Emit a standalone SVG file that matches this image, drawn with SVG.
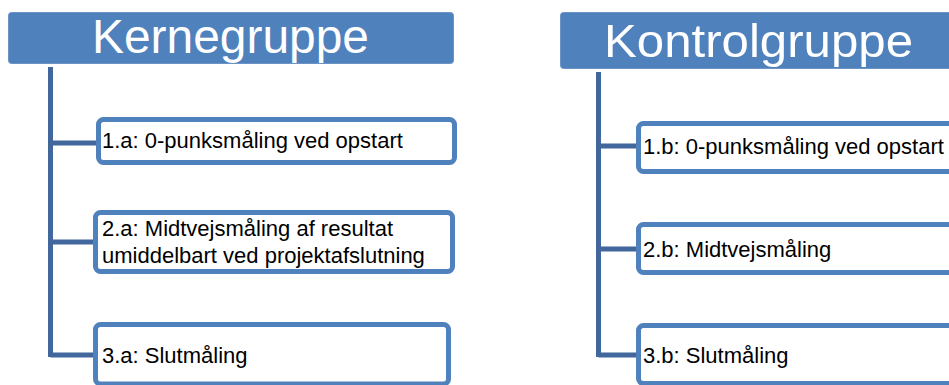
<svg xmlns="http://www.w3.org/2000/svg" width="949" height="385" viewBox="0 0 949 385">
<style>
.hdr{fill:#4f81bd;stroke:#6b93c6;stroke-width:1}
.ht{font-family:"Liberation Sans",Arial,sans-serif;fill:#ffffff;text-anchor:middle}
.box{fill:#ffffff;stroke:#4f81bd;stroke-width:5}
.bt{font-family:"Liberation Sans",Arial,sans-serif;font-size:22px;fill:#000000}
.conn{stroke:#41679c;stroke-width:5;fill:none}
</style>
<rect width="949" height="385" fill="#ffffff"/>
<g id="connectors">
<path class="conn" d="M50.5,67 V357 M50.5,143 H97 M50.5,242 H94 M50.5,355 H94"/>
<path class="conn" d="M598.5,72 V357 M598.5,146 H637 M598.5,249 H637 M598.5,355 H637"/>
</g>
<g id="kernegruppe">
<rect class="hdr" x="8.5" y="12.5" width="445" height="51" rx="3"/>
<text class="ht" x="230.5" y="53" font-size="48" textLength="277" lengthAdjust="spacingAndGlyphs">Kernegruppe</text>
</g>
<g id="k1">
<rect class="box" x="98.5" y="119.5" width="356" height="43" rx="5"/>
<text class="bt" x="102" y="148">1.a: 0-punksmåling ved opstart</text>
</g>
<g id="k2">
<rect class="box" x="95.5" y="212.5" width="357" height="59" rx="5"/>
<text class="bt" x="102" y="236">2.a: Midtvejsmåling af resultat</text>
<text class="bt" x="102" y="263">umiddelbart ved projektafslutning</text>
</g>
<g id="k3">
<rect class="box" x="95.5" y="324.5" width="353" height="59.5" rx="5"/>
<text class="bt" x="102" y="363">3.a: Slutmåling</text>
</g>
<g id="kontrolgruppe">
<rect class="hdr" x="560.5" y="12.5" width="400" height="56" rx="3"/>
<text class="ht" x="758.5" y="57" font-size="47" textLength="309" lengthAdjust="spacingAndGlyphs">Kontrolgruppe</text>
</g>
<g id="c1">
<rect class="box" x="638.5" y="123.5" width="400" height="48" rx="5"/>
<text class="bt" x="643" y="154">1.b: 0-punksmåling ved opstart</text>
</g>
<g id="c2">
<rect class="box" x="638.5" y="224.5" width="400" height="48" rx="5"/>
<text class="bt" x="643" y="257">2.b: Midtvejsmåling</text>
</g>
<g id="c3">
<rect class="box" x="638.5" y="325.5" width="400" height="58" rx="5"/>
<text class="bt" x="643" y="363">3.b: Slutmåling</text>
</g>
</svg>
